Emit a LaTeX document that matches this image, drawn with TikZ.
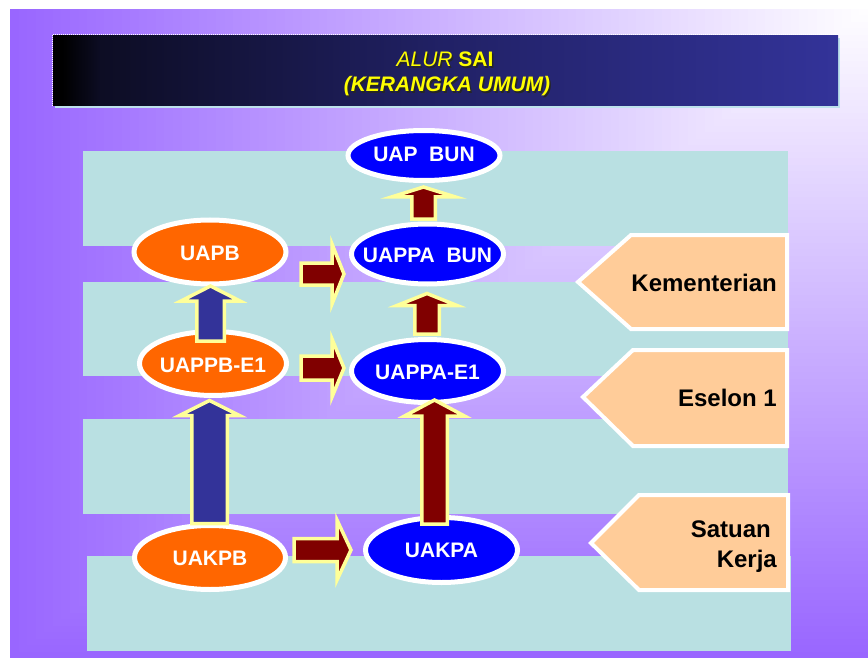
\documentclass[tikz,border=0pt]{standalone}
\usepackage{fontspec}
\setmainfont{Liberation Sans}
\usetikzlibrary{calc,shapes.geometric}
\definecolor{purp}{RGB}{153,102,255}
\definecolor{bandc}{RGB}{185,224,226}
\definecolor{peach}{RGB}{255,204,153}
\definecolor{orng}{RGB}{255,102,0}
\definecolor{blu}{RGB}{0,0,255}
\definecolor{dred}{RGB}{128,0,0}
\definecolor{navyb}{RGB}{51,51,153}
\definecolor{lyel}{RGB}{255,255,153}
\definecolor{ttlyel}{RGB}{255,255,0}
\definecolor{shadowc}{RGB}{190,226,236}
\pgfdeclarehorizontalshading{barshade}{100bp}{rgb(0bp)=(0,0,0); rgb(25bp)=(0,0,0); rgb(25.6bp)=(0,0,0); rgb(28bp)=(0.05,0.05,0.14); rgb(50bp)=(0.13,0.13,0.4); rgb(75bp)=(0.2,0.2,0.6); rgb(100bp)=(0.2,0.2,0.6)}
\tikzset{
  ell/.style={ellipse, draw=white, line width=5pt, inner sep=0pt, outer sep=0pt},
  elltxt/.style={inner sep=0pt, text=white, font=\fontsize{21}{24}\selectfont\bfseries},
  lbl/.style={fill=peach, draw=white, line width=4pt, line join=miter},
  lbltxt/.style={inner sep=0pt, text=black, font=\fontsize{24}{30}\selectfont\bfseries},
  blockarr/.style={draw=lyel, line width=3.5pt, line join=miter},
  band/.style={fill=bandc},
  ttl/.style={inner sep=0pt, text=ttlyel, font=\fontsize{21}{25}\selectfont},
  ttlsh/.style={inner sep=0pt, text=black!85, font=\fontsize{21}{25}\selectfont}
}
\newcommand\UpBlock[6]{\filldraw[blockarr,fill=#3] ($(#1)+(-#4,0)$) -- ($(#2)+(-#4,#6)$) -- ($(#2)+(-#5,#6)$) -- (#2) -- ($(#2)+(#5,#6)$) -- ($(#2)+(#4,#6)$) -- ($(#1)+(#4,0)$) -- cycle;}
\newcommand\RightBlock[6]{\filldraw[blockarr,fill=#3] ($(#1)+(0,-#4)$) -- ($(#2)+(-#6,-#4)$) -- ($(#2)+(-#6,-#5)$) -- (#2) -- ($(#2)+(-#6,#5)$) -- ($(#2)+(-#6,#4)$) -- ($(#1)+(0,#4)$) -- cycle;}
\begin{document}
\begin{tikzpicture}[x=1pt,y=-1pt]
\useasboundingbox (0,0) rectangle (868,658);
\fill[white] (0,0) rectangle (868,658);
% background gradient (from top-right corner)
\foreach \i in {100,99,...,0} {
  \fill[purp!\i!white] ({868-\i*8.58},9) rectangle (868,{9+\i*6.49});
}
% bands
\fill[band] (83,151) rectangle (788,246);
\fill[band] (83,282) rectangle (788,376);
\fill[band] (83,419) rectangle (788,514);
\fill[band] (87,556) rectangle (791,651);
% header bar
\fill[shadowc] (55,38) rectangle (840,108);
\shade[shading=barshade] (53,36) rectangle (838,106);
\draw[white, line width=1pt, densely dotted] (52.5,106) -- (52.5,34.5) -- (838,34.5);
\node[ttlsh, anchor=base] (t1s) at (446.5,68.2) {\itshape ALUR \bfseries\upshape SAI};
\node[ttl, anchor=base] (t1) at (445,66.7) {\itshape ALUR \bfseries\upshape SAI};
\node[ttlsh, anchor=base] (t2s) at (448.5,93.2) {\bfseries\itshape (KERANGKA UMUM)};
\node[ttl, anchor=base] (t2) at (447,91.7) {\bfseries\itshape (KERANGKA UMUM)};
% side labels
\draw[lbl] (631,235) -- (787,235) -- (787,329) -- (631,329) -- (578,282) -- cycle;
\draw[lbl] (633,350) -- (787,350) -- (787,446) -- (633,446) -- (583,397) -- cycle;
\draw[lbl] (639,495) -- (788,495) -- (788,590) -- (639,590) -- (591,543) -- cycle;
\node[lbltxt, anchor=base east] (kem) at (777,291) {Kementerian};
\node[lbltxt, anchor=base east] (ese) at (777,406) {Eselon 1};
\node[lbltxt, anchor=base east] (sat) at (771,537) {Satuan};
\node[lbltxt, anchor=base east] (ker) at (777,567) {Kerja};
% ellipses
\node[ell, fill=blu, minimum width=152pt, minimum height=50pt] (uapbun) at (424,155.5) {};
\node[ell, fill=blu, minimum width=152pt, minimum height=60pt] (uappabun) at (427.5,254) {};
\node[ell, fill=orng, minimum width=152pt, minimum height=64pt] (uapb) at (210,252) {};
\node[ell, fill=orng, minimum width=147pt, minimum height=64pt] (uappbe1) at (213,363.5) {};
\node[ell, fill=blu, minimum width=152pt, minimum height=63pt] (uappae1) at (427.5,371) {};
\node[ell, fill=orng, minimum width=151pt, minimum height=64pt] (uakpb) at (210,557.5) {};
\node[ell, fill=blu, minimum width=152pt, minimum height=65pt] (uakpa) at (441.5,550) {};
\node[elltxt] (uapbun-t) at ($(uapbun)+(0,-1)$) {UAP\ \ BUN};
\node[elltxt] (uappabun-t) at ($(uappabun)+(0,1)$) {UAPPA\ \ BUN};
\node[elltxt] (uapb-t) at ($(uapb)+(0,1)$) {UAPB};
\node[elltxt] (uappbe1-t) at ($(uappbe1)+(0,1.5)$) {UAPPB-E1};
\node[elltxt] (uappae1-t) at ($(uappae1)+(0,1.5)$) {UAPPA-E1};
\node[elltxt] (uakpb-t) at ($(uakpb)+(0,1)$) {UAKPB};
\node[elltxt] (uakpa-t) at ($(uakpa)+(0,0)$) {UAKPA};
% up arrows
\coordinate (b4) at ($(uappbe1.north)+(-2.5,9.5)$);
\coordinate (t4) at ($(b4 |- uapb.south)+(0,2)$);
\UpBlock{b4}{t4}{navyb}{13.75}{29.5}{15}
\coordinate (b5) at ($(uakpb.north)+(-0.5,-2)$);
\coordinate (t5) at ($(b5 |- uappbe1.south)+(0,5)$);
\UpBlock{b5}{t5}{navyb}{17.75}{30}{15}
\coordinate (b6) at ($(uappae1.north)+(-0.5,-5.5)$);
\coordinate (t6) at ($(b6 |- uappabun.south)+(0,9.5)$);
\UpBlock{b6}{t6}{dred}{12.25}{30}{12}
\coordinate (b7) at ($(uappabun.north)+(-4,-5)$);
\coordinate (t7) at ($(b7 |- uapbun.south)+(0,6.5)$);
\UpBlock{b7}{t7}{dred}{11.75}{32}{10}
\coordinate (b8) at ($(uakpa.north)+(-7,6.5)$);
\coordinate (t8) at ($(b8 |- uappae1.south)+(0,-2.5)$);
\UpBlock{b8}{t8}{dred}{12.75}{30}{16}
% right arrows
\coordinate (s1) at ($(uapb.east)+(15,22)$);
\coordinate (e1) at ($(s1 -| uappabun.west)+(-7.5,0)$);
\RightBlock{s1}{e1}{dred}{11}{30}{12}
\coordinate (s2) at ($(uappbe1.east)+(14.5,4.5)$);
\coordinate (e2) at ($(s2 -| uappae1.west)+(-7.5,0)$);
\RightBlock{s2}{e2}{dred}{12}{29}{12}
\coordinate (s3) at ($(uakpb.east)+(8.5,-7.5)$);
\coordinate (e3) at ($(s3 -| uakpa.west)+(-14.5,0)$);
\RightBlock{s3}{e3}{dred}{11.5}{30}{14}
\end{tikzpicture}
\end{document}
